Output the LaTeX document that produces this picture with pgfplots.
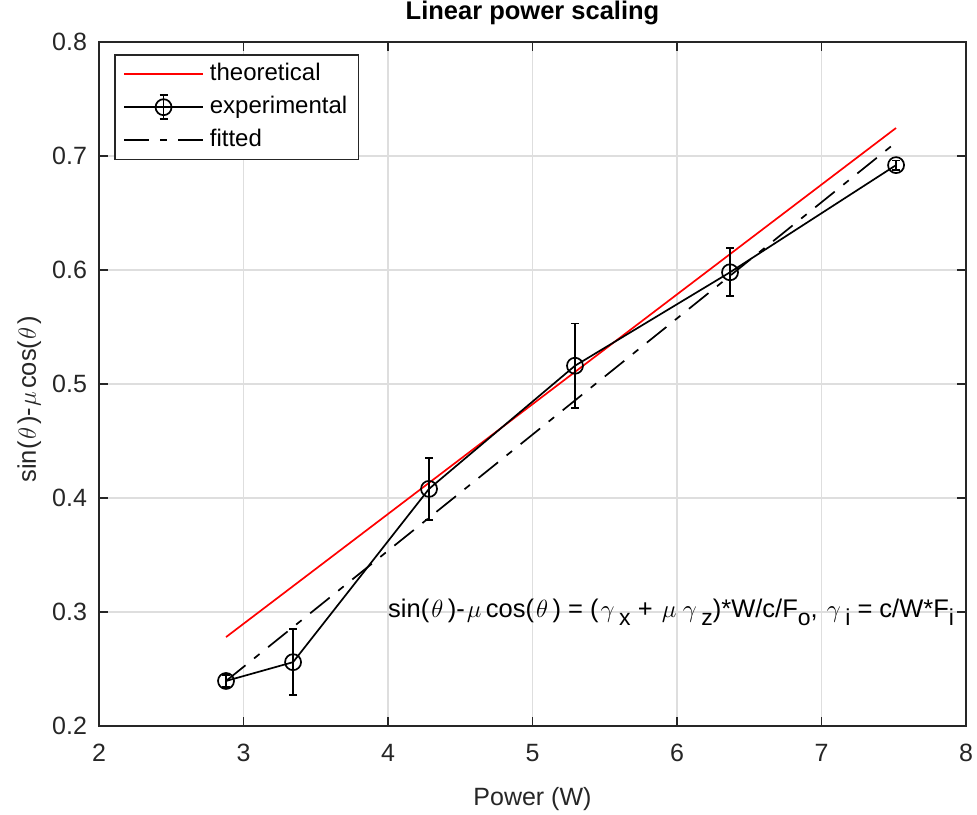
\documentclass[border=0pt]{standalone}
\usepackage{fontspec}
\setmainfont{Liberation Sans}
\usepackage{pgfplots}
\usepackage{pgfplotstable}
\pgfplotsset{compat=1.18}
\definecolor{axgray}{RGB}{38,38,38}
\definecolor{gridgray}{RGB}{222,222,222}
\newcommand\sub[1]{\raisebox{-8pt}{\fontsize{23}{25}\selectfont #1}}
\newcommand\gk[1]{\kern1.5pt$#1$\kern3pt}
\newcommand\gkk[1]{\kern2pt$#1$\kern4.5pt}

\pgfplotstableread{
x y e
2.879 0.2395 0.005
3.343 0.256 0.029
4.284 0.408 0.027
5.294 0.516 0.037
6.367 0.598 0.021
7.516 0.692 0.004
}\expdata
\pgfplotstableread{
x y
2.879 0.278
7.516 0.7246
}\theodata
\pgfplotstableread{
x y
2.879 0.2395
7.516 0.712
}\fitdata

\begin{document}
\begin{tikzpicture}
\begin{axis}[
  scale only axis, width=867pt, height=684pt,
  xmin=2, xmax=8, ymin=0.2, ymax=0.8,
  xtick={2,3,4,5,6,7,8},
  ytick={0.2,0.3,0.4,0.5,0.6,0.7,0.8},
  yticklabels={0.2,0.3,0.4,0.5,0.6,0.7,0.8},
  /pgf/number format/assume math mode=true,
  tick align=inside, major tick length=9pt,
  axis line style={axgray, line width=1.3pt},
  tick style={axgray, line width=1.3pt},
  grid=major, grid style={gridgray, line width=1.3pt},
  ticklabel style={font=\fontsize{25}{30}\selectfont, text=axgray},
  xticklabel style={yshift=-15pt},
  yticklabel style={xshift=-8.5pt},
  title={Linear power scaling},
  title style={at={(axis description cs:0.5,1)}, anchor=base, yshift=16pt, font=\bfseries\fontsize{25.5}{30}\selectfont},
  xlabel={Power (W)},
  xlabel style={at={(axis description cs:0.5,0)}, anchor=base, yshift=-79pt, font=\fontsize{25}{30}\selectfont, text=axgray},
  ylabel={sin(\gk{\theta})-\gk{\mu}cos(\gk{\theta})},
  ylabel style={at={(axis description cs:-0.0727,0.478)}, anchor=base, font=\fontsize{25.5}{30}\selectfont, text=axgray},
  legend style={name=leg, at={(axis description cs:0,1)}, anchor=north west, xshift=16pt, yshift=-13pt,
     draw=none, fill=white, font=\fontsize{24}{28}\selectfont, inner xsep=8pt, inner ysep=5pt,
     nodes={text height=17pt, text depth=5pt, inner sep=3pt}, row sep=5pt, column sep=3pt},
  legend cell align=left,
]
\addplot[red, line width=1.7pt, legend image code/.code={\draw[red,line width=1.7pt] (0pt,0pt) -- (79pt,0pt);}] table[x=x,y=y] {\theodata};
\addlegendentry{theoretical}
\addplot[black, line width=1.7pt, mark=o, mark size=8pt, mark options={solid},
  legend image code/.code={
    \draw[black,line width=1.7pt] (0pt,0pt) -- (79pt,0pt);
    \draw[black,line width=1.7pt] (39.5pt,0pt) circle (8pt);
    \draw[black,line width=1.7pt] (39.5pt,-12pt) -- (39.5pt,12pt);
    \draw[black,line width=1.7pt] (35.5pt,-12pt) -- (43.5pt,-12pt);
    \draw[black,line width=1.7pt] (35.5pt,12pt) -- (43.5pt,12pt);},
  error bars/.cd, y dir=both, y explicit,
  error bar style={line width=1.7pt},
  error mark options={rotate=90, mark size=4pt, line width=1.7pt},
  ] table[x=x,y=y,y error=e] {\expdata};
\addlegendentry{experimental}
\addplot[black, line width=1.7pt, dash pattern=on 25pt off 11pt on 7pt off 11pt,
  legend image code/.code={\draw[black,line width=1.7pt,dash pattern=on 25pt off 11pt on 7pt off 11pt] (0pt,0pt) -- (79pt,0pt);}] table[x=x,y=y] {\fitdata};
\addlegendentry{fitted}
\node[anchor=west, font=\fontsize{25.5}{30}\selectfont, text=black, inner sep=0pt] at (axis cs:4.0,0.3)
  {sin(\gkk{\theta})-\gkk{\mu}cos(\gkk{\theta}) = (\gkk{\gamma}\sub{x} + \gkk{\mu}\gkk{\gamma}\sub{z})*W/c/F\sub{o}, \gkk{\gamma}\sub{i} = c/W*F\sub{i}};
\end{axis}
\draw[axgray, line width=1.2pt] (leg.south west) rectangle (leg.north east);
\pgfresetboundingbox
\path[use as bounding box] ([shift={(-99pt,-88pt)}]current axis.south west) rectangle ([shift={(11pt,42pt)}]current axis.north east);
\end{tikzpicture}
\end{document}
